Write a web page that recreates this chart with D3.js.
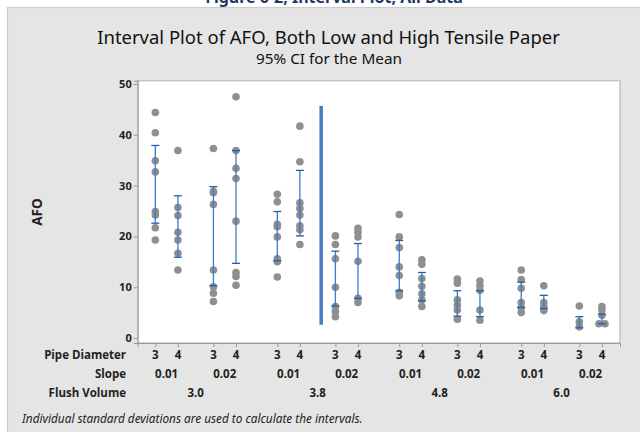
<!DOCTYPE html>
<html>
<head>
<meta charset="utf-8">
<script src="https://cdn.jsdelivr.net/npm/d3@7"></script>
<style>
  html, body { margin: 0; padding: 0; background: #ffffff; }
  svg { display: block; font-family: "Noto Sans", "Open Sans", sans-serif; }
</style>
</head>
<body>
<svg id="chart" width="640" height="432"></svg>
<script>
// Factor levels along the x axis (innermost first)
const pipeDiameters = ["3", "4"];
const slopes = ["0.01", "0.02"];
const flushVolumes = ["3.0", "3.8", "4.8", "6.0"];

// Individual AFO observations per cell, ordered Flush Volume > Slope > Pipe Diameter
const afoValues = [
  [44.4, 40.4, 34.9, 32.7, 24.9, 24.2, 21.7, 19.3],
  [36.9, 25.7, 24.1, 20.8, 19.3, 16.7, 13.4],
  [37.3, 28.9, 28.6, 26.3, 13.4, 10.1, 8.8, 7.2],
  [47.5, 36.9, 33.4, 31.4, 23.0, 12.9, 12.1, 10.4],
  [28.3, 26.8, 22.4, 21.9, 19.9, 15.6, 15.0, 12.0],
  [41.7, 34.7, 26.6, 25.5, 24.2, 22.1, 21.3, 18.4],
  [20.1, 18.4, 15.6, 10.0, 6.2, 5.2, 4.2],
  [21.6, 20.8, 19.9, 15.1, 7.8, 7.0],
  [24.3, 19.9, 17.8, 14.0, 12.3, 9.0, 8.3],
  [15.4, 14.5, 11.7, 10.2, 8.7, 7.5, 6.2],
  [11.6, 10.8, 7.5, 6.5, 5.5, 3.7],
  [11.2, 10.3, 9.4, 5.5, 3.5],
  [13.4, 11.5, 9.8, 7.0, 6.0, 5.0],
  [10.3, 7.0, 6.2, 5.4],
  [6.3, 3.2, 2.2],
  [6.2, 5.5, 4.5, 2.8, 2.8]
];

// 95% confidence interval for each cell mean
const ciLower = [22.6, 15.9, 10.3, 14.7, 15.2, 20.1, 6.3, 7.8, 9.3, 7.3, 4.3, 4.2, 6.0, 5.8, 2.0, 2.8];
const ciUpper = [37.9, 28.0, 29.8, 36.9, 24.9, 33.0, 17.1, 18.6, 19.2, 12.9, 9.3, 9.3, 11.0, 8.4, 4.2, 4.7];

// Y axis ticks and the separator line between the 3.0/3.8 low-tensile cells
const yTicks = [0, 10, 20, 30, 40, 50];
const separatorRange = [2.6, 45.7];

const svg = d3.select("#chart");
const W = 640, H = 432;

// Page header (clipped at the top edge)
svg.append("text")
  .attr("x", 334).attr("y", 3)
  .attr("text-anchor", "middle")
  .attr("font-size", 16).attr("font-weight", "bold")
  .attr("fill", "#1f3864")
  .text("Figure 6-2, Interval Plot, All Data");

// Graph background panel
svg.append("rect")
  .attr("x", 7.5).attr("y", 7.5)
  .attr("width", W).attr("height", H)
  .attr("fill", "#e5e5e5")
  .attr("stroke", "#cdcdcd").attr("stroke-width", 1.2);

const plot = { left: 137.7, right: 620, top: 80.7, bottom: 343 };

// Cell slot positions: extra gap between slope pairs and bigger gap between flush groups
const cells = [];
flushVolumes.forEach((fv, f) => {
  slopes.forEach((sl, s) => {
    pipeDiameters.forEach((pd, p) => {
      const i = cells.length;
      const sIdx = f * slopes.length + s;
      cells.push({ i, fv, sl, pd, f, sIdx, slot: i + sIdx * 0.571 + f * 0.256 });
    });
  });
});
const lastSlot = cells[cells.length - 1].slot;

const x = d3.scaleLinear()
  .domain([-0.78, lastSlot + 0.8])
  .range([plot.left, plot.right]);

const y = d3.scaleLinear()
  .domain([-0.98, 50.65])
  .range([plot.bottom, plot.top]);

// Plot area
svg.append("rect")
  .attr("x", plot.left).attr("y", plot.top)
  .attr("width", plot.right - plot.left).attr("height", plot.bottom - plot.top)
  .attr("fill", "#ffffff")
  .attr("stroke", "#c4c4c4").attr("stroke-width", 1.5);

// Y axis
const yAxis = d3.axisLeft(y).tickValues(yTicks).tickSize(4).tickPadding(2).tickFormat(d3.format("d"));
const gy = svg.append("g").attr("transform", `translate(${plot.left},0)`).call(yAxis);
gy.select(".domain").attr("stroke", "#9a9a9a");
gy.selectAll(".tick line").attr("stroke", "#9a9a9a");
gy.selectAll(".tick text")
  .attr("font-family", "'Open Sans', 'Noto Sans', sans-serif")
  .attr("font-size", 11).attr("font-weight", "bold").attr("fill", "#222");

svg.append("text")
  .attr("transform", "translate(42,212) rotate(-90)")
  .attr("text-anchor", "middle")
  .attr("font-family", "'Open Sans', 'Noto Sans', sans-serif")
  .attr("font-size", 13.5).attr("font-weight", "bold").attr("fill", "#222")
  .text("AFO");

// X axis ticks, one per cell
const xAxis = d3.axisBottom(x).tickValues(cells.map(c => c.slot)).tickSize(4).tickFormat(() => "");
const gx = svg.append("g").attr("transform", `translate(0,${plot.bottom})`).call(xAxis);
gx.select(".domain").attr("stroke", "#9a9a9a");
gx.selectAll(".tick line").attr("stroke", "#9a9a9a");

// Hierarchical category labels
const labelFont = "'Open Sans', 'Noto Sans', sans-serif";
const labelSize = 11.5;
const rows = [
  { name: "Pipe Diameter", y: 359 },
  { name: "Slope", y: 378 },
  { name: "Flush Volume", y: 397 }
];
rows.forEach(r => {
  svg.append("text")
    .attr("x", 126).attr("y", r.y)
    .attr("text-anchor", "end")
    .attr("font-family", labelFont)
    .attr("font-size", labelSize).attr("font-weight", "bold").attr("fill", "#222")
    .text(r.name);
});

svg.append("g").selectAll("text")
  .data(cells).join("text")
  .attr("x", d => x(d.slot)).attr("y", rows[0].y)
  .attr("text-anchor", "middle")
  .attr("font-family", labelFont)
  .attr("font-size", labelSize).attr("font-weight", "bold").attr("fill", "#222")
  .text(d => d.pd);

const slopeGroups = d3.groups(cells, d => d.sIdx).map(([k, v]) => ({
  label: v[0].sl, mid: d3.mean(v, c => x(c.slot))
}));
svg.append("g").selectAll("text")
  .data(slopeGroups).join("text")
  .attr("x", d => d.mid).attr("y", rows[1].y)
  .attr("text-anchor", "middle")
  .attr("font-family", labelFont)
  .attr("font-size", labelSize).attr("font-weight", "bold").attr("fill", "#222")
  .text(d => d.label);

const flushGroups = d3.groups(cells, d => d.f).map(([k, v]) => ({
  label: v[0].fv, mid: (x(v[0].slot) + x(v[v.length - 1].slot)) / 2
}));
svg.append("g").selectAll("text")
  .data(flushGroups).join("text")
  .attr("x", d => d.mid).attr("y", rows[2].y)
  .attr("text-anchor", "middle")
  .attr("font-family", labelFont)
  .attr("font-size", labelSize).attr("font-weight", "bold").attr("fill", "#222")
  .text(d => d.label);

// Individual observations; tied values are nudged sideways so both stay visible
const points = [];
afoValues.forEach((vals, i) => {
  const counts = {};
  vals.forEach(v => {
    const k = v.toFixed(1);
    counts[k] = (counts[k] || 0) + 1;
  });
  const seen = {};
  vals.forEach(v => {
    const k = v.toFixed(1);
    const n = counts[k];
    const j = seen[k] = (seen[k] || 0) + 1;
    const dx = n > 1 ? ((j - 1) - (n - 1) / 2) * 6 : 0;
    points.push({ cx: x(cells[i].slot) + dx, v });
  });
});
svg.append("g").selectAll("circle")
  .data(points).join("circle")
  .attr("cx", d => d.cx).attr("cy", d => y(d.v))
  .attr("r", 3.8)
  .attr("fill", "#8f8f8f");

// Separator line
const sepX = x(cells[5].slot) + 0.6 * (x(cells[6].slot) - x(cells[5].slot));
svg.append("line")
  .attr("x1", sepX).attr("x2", sepX)
  .attr("y1", y(separatorRange[0])).attr("y2", y(separatorRange[1]))
  .attr("stroke", "#4a7cc0").attr("stroke-width", 3.5);

// Confidence interval bars
const ci = svg.append("g").attr("stroke", "#1e5fae").attr("stroke-width", 1.3).attr("fill", "none");
cells.forEach((c, i) => {
  const cx = x(c.slot);
  ci.append("line").attr("x1", cx).attr("x2", cx).attr("y1", y(ciLower[i])).attr("y2", y(ciUpper[i]))
    .attr("stroke", "#3f7ac4");
  [ciLower[i], ciUpper[i]].forEach(v => {
    ci.append("line").attr("x1", cx - 4).attr("x2", cx + 4).attr("y1", y(v)).attr("y2", y(v));
  });
});

// Titles
const title = svg.append("text")
  .attr("x", 328.5).attr("y", 43.5)
  .attr("text-anchor", "middle")
  .attr("font-size", 19).attr("fill", "#111")
  .text("Interval Plot of AFO, Both Low and High Tensile Paper");
const tw = title.node().getComputedTextLength();
title.attr("font-size", 19 * 463 / tw);

const sub = svg.append("text")
  .attr("x", 329).attr("y", 64)
  .attr("text-anchor", "middle")
  .attr("font-size", 14).attr("fill", "#111")
  .text("95% CI for the Mean");
const sw = sub.node().getComputedTextLength();
sub.attr("font-size", 14 * 146 / sw);

// Footnote
const note = svg.append("text")
  .attr("x", 22).attr("y", 423)
  .attr("font-size", 11).attr("font-style", "italic").attr("fill", "#222")
  .text("Individual standard deviations are used to calculate the intervals.");
const nw = note.node().getComputedTextLength();
note.attr("font-size", 11 * 341 / nw);
</script>
</body>
</html>
